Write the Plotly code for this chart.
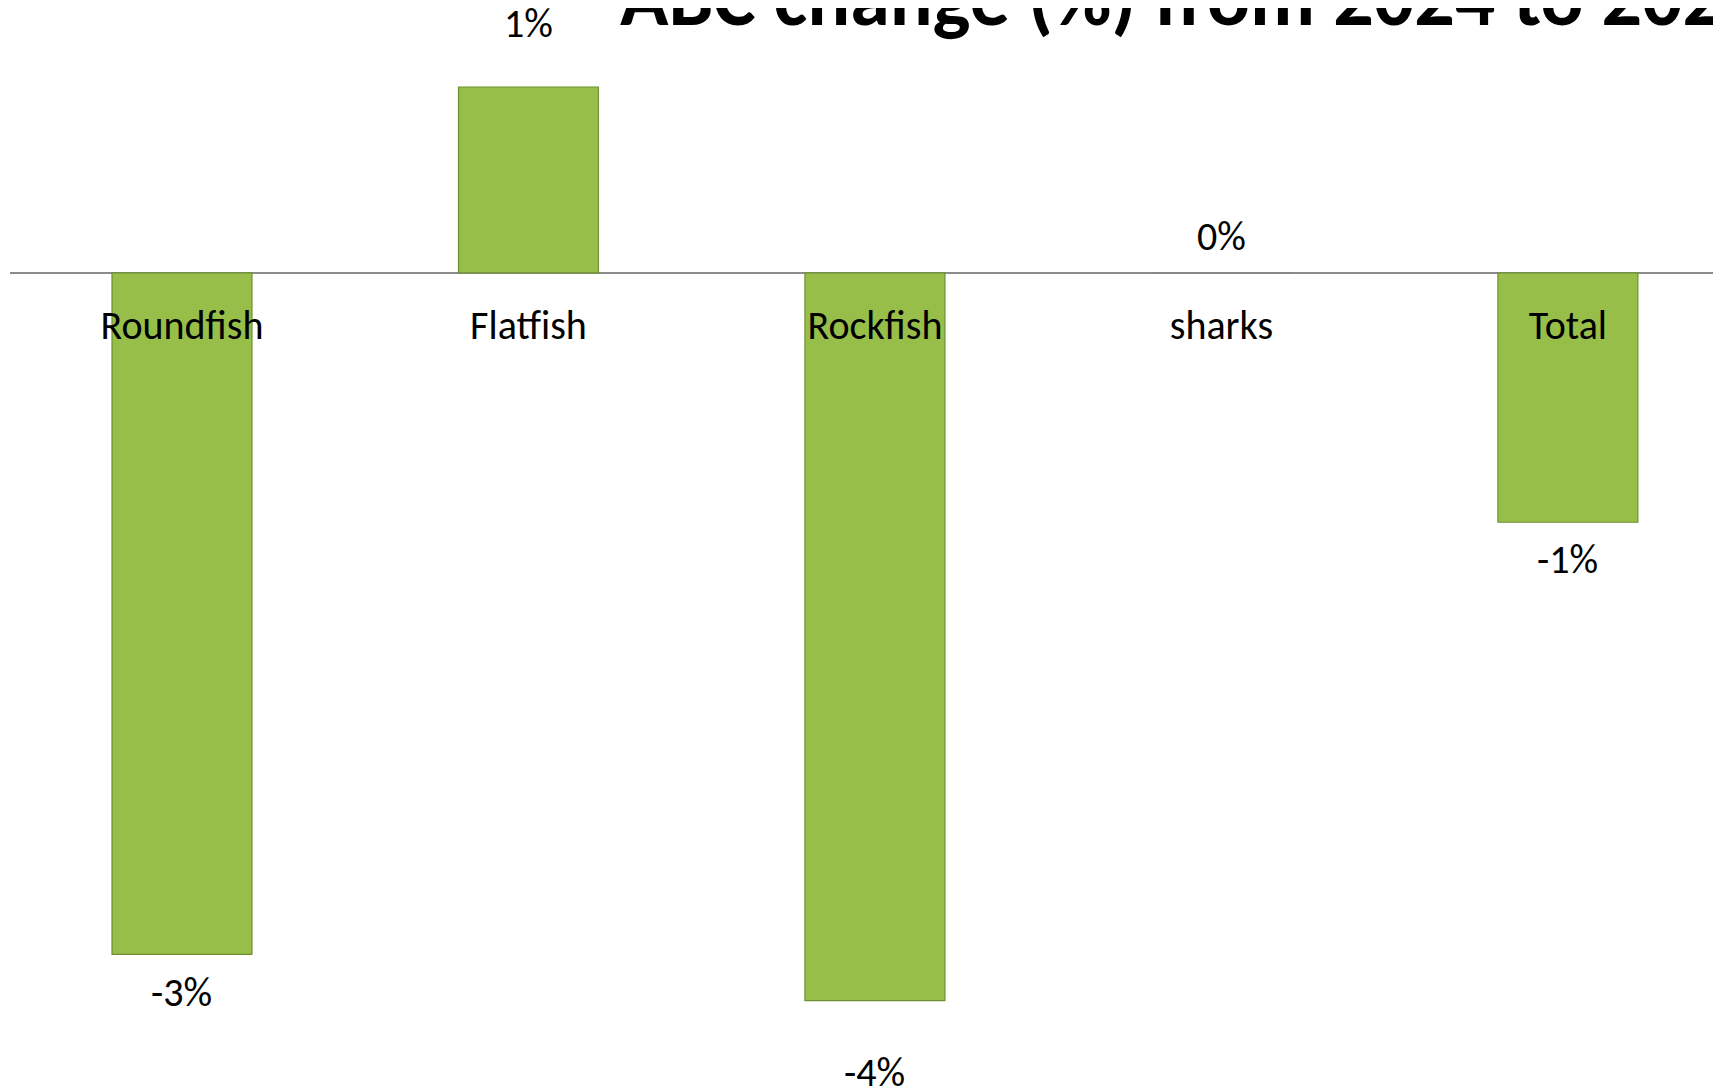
import plotly.graph_objects as go

categories = ["Roundfish", "Flatfish", "Rockfish", "sharks", "Total"]
abc_change = [-0.0339, 0.00925, -0.0362, 0.0, -0.0124]
title_text = "ABC change (%) from 2024 to 2025"

# label offsets (px) from bar end, per category (style only)
label_shift = [-38, 64, -72, 36, -37]

FONT = "Carlito, Lato, sans-serif"

line_colors = ["#6F8F33" if v != 0 else "rgba(0,0,0,0.05)" for v in abc_change]

fig = go.Figure()
fig.add_trace(go.Bar(
    x=categories,
    y=abc_change,
    width=0.404,
    marker=dict(color="#97BE48", line=dict(color=line_colors, width=1.2)),
    showlegend=False,
))

for c, v, s in zip(categories, abc_change, label_shift):
    fig.add_annotation(
        x=c, y=v, text=f"{round(v * 100):.0f}%", showarrow=False,
        yanchor="middle", yshift=s, font=dict(family=FONT, size=40, color="#000000"),
    )

fig.add_annotation(
    xref="paper", yref="paper", x=(610 - 2) / 1719, y=1.0, xanchor="left", yanchor="bottom",
    text=f"<b>{title_text}</b>", showarrow=False, yshift=-40,
    font=dict(family=FONT, size=80, color="#000000"),
)

fig.update_layout(
    width=1721, height=1090,
    margin=dict(l=2, r=0, t=0, b=0),
    paper_bgcolor="white", plot_bgcolor="white",
    xaxis=dict(
        range=[-0.4964, 4.465], showgrid=False, showline=False, ticks="",
        anchor="free", position=(1090 - 265) / 1090,
        tickfont=dict(family=FONT, size=40, color="#000000"),
        ticklabelstandoff=25,
    ),
    yaxis=dict(
        range=[-0.04104, 0.01318], showgrid=False, showticklabels=False, ticks="",
        zeroline=True, zerolinecolor="#8C8C8C", zerolinewidth=2, showline=False,
    ),
)

fig.write_html("out.html")
